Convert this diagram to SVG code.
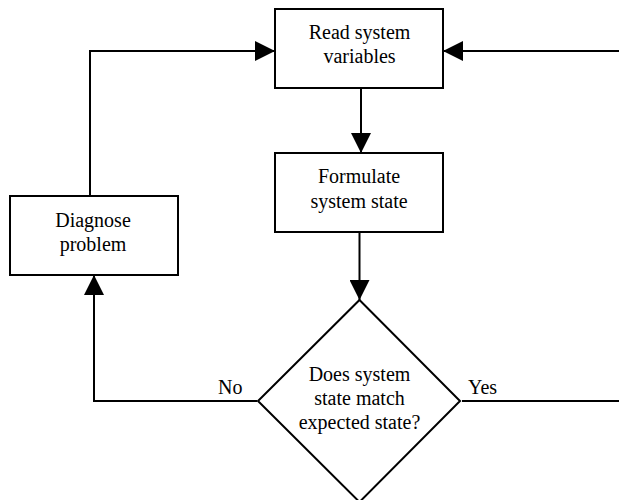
<svg xmlns="http://www.w3.org/2000/svg" width="619" height="500" viewBox="0 0 619 500">
<defs>
<style>
.box{fill:#fff;stroke:#000;stroke-width:2}
.ln{fill:none;stroke:#000;stroke-width:2}
text{font-family:'Liberation Serif','Times New Roman',serif;font-size:20px;fill:#000}
.t{text-anchor:middle}
</style>
<marker id="ah" viewBox="0 0 20 20" refX="20" refY="10" markerWidth="20" markerHeight="20" markerUnits="userSpaceOnUse" orient="auto">
<path d="M0,0 L20,10 L0,20 Z" fill="#000"/>
</marker>
</defs>
<rect width="619" height="500" fill="#fff"/>
<g id="connectors">
<line class="ln" x1="361" y1="88" x2="361" y2="153" marker-end="url(#ah)"/>
<line class="ln" x1="359.5" y1="232" x2="359.5" y2="300" marker-end="url(#ah)"/>
<line class="ln" x1="619" y1="51" x2="443" y2="51" marker-end="url(#ah)"/>
<polyline class="ln" points="90,196 90,51 275,51" marker-end="url(#ah)"/>
<polyline class="ln" points="257,401 94,401 94,275" marker-end="url(#ah)"/>
<line class="ln" x1="462" y1="401" x2="619" y2="401"/>
<text x="218" y="394">No</text>
<text x="468" y="394">Yes</text>
</g>
<g id="read">
<rect class="box" x="275" y="9" width="168" height="79"/>
<text class="t" x="359.5" y="39">Read system</text>
<text class="t" x="359.5" y="63">variables</text>
</g>
<g id="formulate">
<rect class="box" x="275" y="153" width="168" height="79"/>
<text class="t" x="359" y="183">Formulate</text>
<text class="t" x="359" y="208">system state</text>
</g>
<g id="diagnose">
<rect class="box" x="10" y="196" width="168" height="79"/>
<text class="t" x="93" y="227">Diagnose</text>
<text class="t" x="93" y="251">problem</text>
</g>
<g id="decision">
<polygon class="box" points="359.5,300 460,401 359.5,502 258,401"/>
<text class="t" x="359.5" y="381">Does system</text>
<text class="t" x="359.5" y="405">state match</text>
<text class="t" x="359.5" y="429">expected state?</text>
</g>
</svg>
